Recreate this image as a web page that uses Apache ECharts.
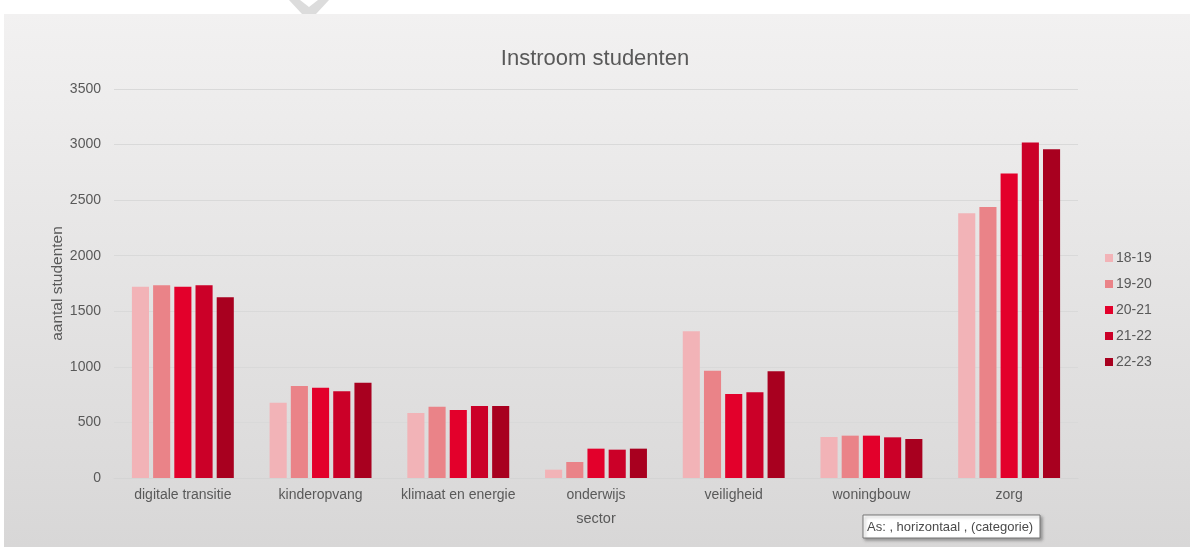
<!DOCTYPE html>
<html>
<head>
<meta charset="utf-8">
<script src="https://cdn.jsdelivr.net/npm/echarts@6/dist/echarts.min.js"></script>
<style>html,body{margin:0;padding:0;background:#fff}#c{width:1190px;height:547px}</style>
</head>
<body>
<div id="c"></div>
<script>
const categories = ['digitale transitie','kinderopvang','klimaat en energie','onderwijs','veiligheid','woningbouw','zorg'];
const seriesNames = ['18-19','19-20','20-21','21-22','22-23'];
const v1819 = [1720, 678, 585, 75, 1320, 369, 2382];
const v1920 = [1735, 828, 640, 144, 966, 381, 2439];
const v2021 = [1720, 813, 612, 264, 756, 381, 2739];
const v2122 = [1735, 780, 648, 255, 771, 366, 3018];
const v2223 = [1626, 858, 648, 264, 960, 351, 2958];
const colors = ['#F2B3B7','#EA8388','#E3002B','#CB0028','#A8001F'];
const values = [v1819, v1920, v2021, v2122, v2223];

const txt = '#595959';
const font = 'Liberation Sans';
const chart = echarts.init(document.getElementById('c'));
chart.setOption({
  backgroundColor: '#ffffff',
  animation: false,
  textStyle: {fontFamily: font},
  title: {
    text: 'Instroom studenten', left: 'center', top: 43,
    textStyle: {fontSize: 22, fontWeight: 'normal', color: txt, fontFamily: font}
  },
  legend: {
    orient: 'vertical', left: 1100, top: 246,
    itemWidth: 8, itemHeight: 8, itemGap: 12, icon: 'rect',
    textStyle: {fontSize: 14, color: txt, fontFamily: font, padding: [0,0,0,-2]},
    data: seriesNames
  },
  grid: {left: 114, right: 112, top: 89, bottom: 69},
  xAxis: {
    type: 'category', data: categories,
    name: 'sector', nameLocation: 'middle', nameGap: 33,
    nameTextStyle: {fontSize: 14.5, color: txt, fontFamily: font},
    axisLine: {show: true, lineStyle: {color: '#d4d4d4'}},
    axisTick: {show: false},
    axisLabel: {fontSize: 14, color: txt, margin: 10, fontFamily: font, interval: 0}
  },
  yAxis: {
    type: 'value', min: 0, max: 3500, interval: 500,
    name: 'aantal studenten', nameLocation: 'middle', nameGap: 48, nameMoveOverlap: false,
    nameTextStyle: {fontSize: 15.5, color: txt, fontFamily: font},
    axisLine: {show: false}, axisTick: {show: false},
    axisLabel: {fontSize: 14, color: txt, margin: 13, fontFamily: font, formatter: v => String(v)},
    splitLine: {lineStyle: {color: '#d9d9d9'}}
  },
  series: seriesNames.map((n, i) => ({
    name: n, type: 'bar', data: values[i],
    barGap: '24%', barCategoryGap: '26%',
    itemStyle: {color: colors[i]}
  })),
  graphic: [
    {type: 'rect', z: -100, silent: true,
     shape: {x: 4, y: 14, width: 1186, height: 533},
     style: {fill: new echarts.graphic.LinearGradient(0, 0, 0, 1, [
       {offset: 0, color: '#f2f1f1'}, {offset: 1, color: '#d8d7d7'}])}},
    {type: 'polygon', z: -90, silent: true,
     shape: {points: [[289, 0], [300, 0], [309, 7], [318, 0], [329, 0], [316, 14], [302, 14]]},
     style: {fill: '#dcdcdc'}},
    {type: 'rect', z: 100, silent: true,
     shape: {x: 863, y: 515, width: 177, height: 23},
     style: {fill: '#ffffff', stroke: '#767676', lineWidth: 1,
              shadowBlur: 3, shadowOffsetX: 2, shadowOffsetY: 2, shadowColor: 'rgba(0,0,0,0.3)'}},
    {type: 'text', z: 101, silent: true,
     style: {x: 867, y: 527, text: 'As: , horizontaal , (categorie)', fill: '#4a4a4a',
             font: '13px "Liberation Sans"', verticalAlign: 'middle'}}
  ]
});
</script>
</body>
</html>
